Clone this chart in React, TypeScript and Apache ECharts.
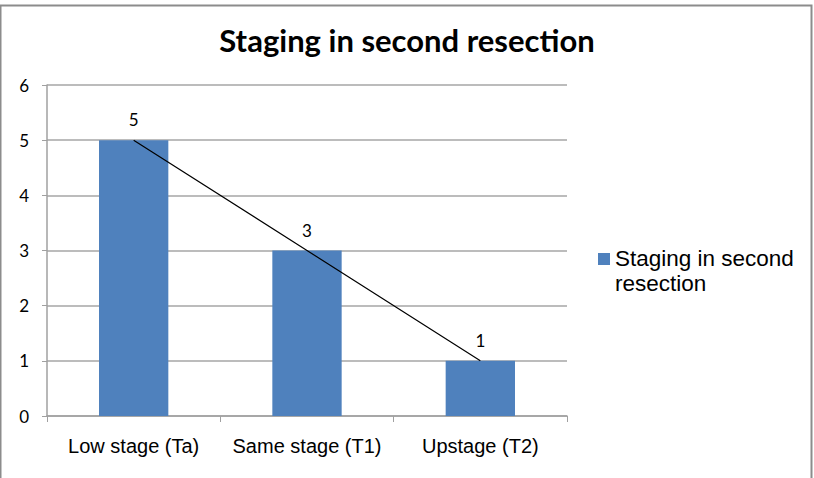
import React, { useEffect, useRef } from "react";
import * as echarts from "echarts";

const categories = ["Low stage (Ta)", "Same stage (T1)", "Upstage (T2)"];
const values = [5, 3, 1];
const seriesName = "Staging in second resection";
const titleText = "Staging in second resection";

export default function App() {
  const ref = useRef<HTMLDivElement>(null);
  useEffect(() => {
    const chart = echarts.init(ref.current!, null, { renderer: "svg" });
    chart.setOption({
      animation: false,
      backgroundColor: "#ffffff",
      title: {
        text: titleText,
        left: "center",
        top: 19,
        textStyle: { fontFamily: "Lato", fontWeight: "bold", fontSize: 31, color: "#000" },
      },
      grid: { left: 47, top: 85, right: 247, bottom: 62, containLabel: false },
      xAxis: {
        type: "category",
        data: categories,
        axisLine: { lineStyle: { color: "#a0a0a0", width: 1.5 } },
        axisTick: { show: true, length: 6, lineStyle: { color: "#a0a0a0" } },
        axisLabel: {
          fontFamily: "Liberation Sans",
          fontSize: 20,
          color: "#000",
          margin: 20,
          interval: 0,
          hideOverlap: false,
        },
      },
      yAxis: {
        type: "value",
        min: 0,
        max: 6,
        interval: 1,
        axisLine: { show: true, lineStyle: { color: "#a0a0a0", width: 1.5 } },
        axisTick: { show: true, length: 5, lineStyle: { color: "#a0a0a0" } },
        splitLine: { lineStyle: { color: "#a6a6a6", width: 1.5 } },
        axisLabel: { fontFamily: "Lato", fontSize: 17, color: "#000", margin: 18 },
      },
      series: [
        {
          name: seriesName,
          type: "bar",
          data: values,
          barWidth: "40%",
          itemStyle: { color: "#4f81bd" },
          label: {
            show: true,
            position: "top",
            distance: 12,
            fontFamily: "Lato",
            fontSize: 17,
            color: "#000",
          },
        },
        {
          name: "trend",
          type: "line",
          data: values,
          symbol: "none",
          lineStyle: { color: "#000", width: 1.2 },
          z: 5,
        },
      ],
      graphic: [
        {
          type: "rect",
          shape: { x: 0.5, y: 5.5, width: 811, height: 480 },
          style: { fill: "none", stroke: "#8c8c8c", lineWidth: 2 },
          silent: true,
        },
        {
          type: "rect",
          shape: { x: 598, y: 253, width: 12, height: 12 },
          style: { fill: "#4f81bd" },
        },
        {
          type: "text",
          x: 615,
          y: 246,
          style: {
            text: "Staging in second\nresection",
            fontFamily: "Liberation Sans",
            fontSize: 22.5,
            lineHeight: 25,
            fill: "#000",
          },
        },
      ],
    });
    return () => chart.dispose();
  }, []);
  return <div ref={ref} style={{ width: 814, height: 478, position: "absolute", left: 0, top: 0 }} />;
}
